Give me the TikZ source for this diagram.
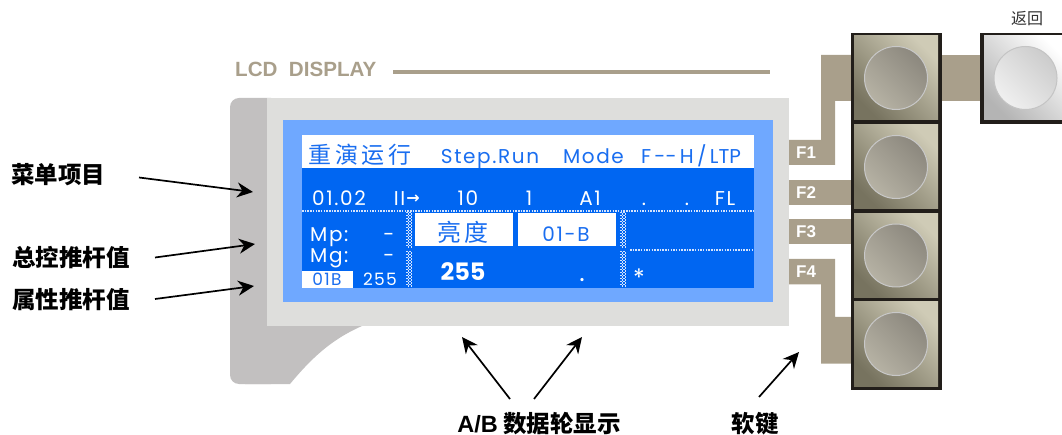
\documentclass[tikz,border=0pt]{standalone}
\usepackage{fontspec}
\setmainfont{Liberation Sans}
\newfontfamily\cjk{Noto Sans CJK SC}
\newfontfamily\lcd{Poppins}
\newfontfamily\lcdw[LetterSpace=8]{Poppins}
\newfontfamily\arrowf{DejaVu Sans}
\usetikzlibrary{arrows.meta}
\definecolor{tan}{HTML}{A99F8B}
\definecolor{body}{HTML}{C2C0C0}
\definecolor{panel}{HTML}{DEDEDC}
\definecolor{lblue}{HTML}{6FA8FF}
\definecolor{dblue}{HTML}{0066F2}
\definecolor{txtb}{HTML}{1A6EF0}
\definecolor{chk}{HTML}{D5E4FC}
\definecolor{frame}{HTML}{221E1A}
\definecolor{btnUL}{HTML}{CFCBB6}\definecolor{btnLR}{HTML}{77735F}\definecolor{btnM}{HTML}{A5A18E}
\definecolor{capUL}{HTML}{8C887E}\definecolor{capLR}{HTML}{B6B2A4}\definecolor{capM}{HTML}{A09C92}\definecolor{capedge}{HTML}{C8C8C8}
\definecolor{wLR}{HTML}{B4B4B4}\definecolor{wM}{HTML}{DEDEDE}
\definecolor{wcUL}{HTML}{CCCCCC}\definecolor{wcM}{HTML}{DEDEDE}\definecolor{wcLR}{HTML}{F0F0F0}\definecolor{wedge}{HTML}{C4C4C4}
\tikzset{
  ptr/.style={draw=black,line width=1.7pt,-{Stealth[length=16pt,width=15pt]}},
  lab/.style={font=\cjk\fontsize{23.5}{23.5}\selectfont\bfseries,text=black,inner sep=0},
  wt/.style={font=\lcdw\fontsize{20}{20}\selectfont,text=white,inner sep=0,anchor=base},
  wts/.style={font=\lcdw\fontsize{17}{17}\selectfont,text=white,inner sep=0,anchor=base},
  bt/.style={font=\lcdw\fontsize{20}{20}\selectfont,text=txtb,inner sep=0,anchor=base},
  fk/.style={font=\fontsize{17}{17}\selectfont\bfseries,text=white,inner sep=0,anchor=west},
  wbox/.style={fill=white,inner sep=0,anchor=north west},
  dots/.style={draw=chk,line width=1.6pt,dash pattern=on 1.5pt off 1.2pt},
  chkcol/.style={draw=chk,line width=1.5pt,dash pattern=on 1.5pt off 1.5pt},
  btn/.style={minimum width=84pt,minimum height=84pt,inner sep=0,shading=axis,
    left color=btnUL,middle color=btnM,right color=btnLR,shading angle=-45},
  capc/.style={circle,draw=capedge,line width=1pt,minimum size=63pt,inner sep=0,shading=axis,
    left color=capUL,middle color=capM,right color=capLR,shading angle=-45},
  wbtn/.style={minimum width=84pt,minimum height=84pt,inner sep=0,shading=axis,
    left color=white,middle color=wM,right color=wLR,shading angle=-45},
  wcap/.style={circle,draw=wedge,line width=1pt,minimum size=63pt,inner sep=0,shading=axis,
    left color=wcUL,middle color=wcM,right color=wcLR,shading angle=-45}
}
\newcommand{\chkband}[3]{%
  \foreach \dx/\ph in {-2.25/0,-0.75/1.5,0.75/0,2.25/1.5}{
    \draw[chkcol,dash phase=\ph pt] (#1+\dx,#2) -- (#1+\dx,#3);
  }}
\begin{document}
\begin{tikzpicture}[x=1pt,y=-1pt]
\useasboundingbox (0,0) rectangle (1062,435);
% LCD title
\node[font=\fontsize{20.6}{20.6}\selectfont\bfseries,text=tan,inner sep=0,anchor=west] (lcdt) at (235,69) {LCD\ \ DISPLAY};
\coordinate (ruleA) at (393,72);
\coordinate (ruleB) at (770,72);
\draw[tan,line width=4pt] (ruleA) -- (ruleB);
% body
\fill[body,rounded corners=9pt] (230,200) -- (230,98) -- (280,98) -- (280,384) -- (230,384) -- cycle;
\fill[body] (245,326) -- (362,326) .. controls (330,340) and (310,360) .. (290,384) -- (245,384) -- cycle;
\fill[panel] (267,98) rectangle (789,326);
\fill[lblue] (283,120.5) rectangle (772.5,302);
\fill[dblue] (302,135) rectangle (754,288.5);
\fill[white] (302,135) rectangle (754,168);
% connectors (behind the keys)
\fill[tan] (789,140) -- (821,140) -- (821,55) -- (852,55) -- (852,101) -- (835,101) -- (835,165) -- (789,165) -- cycle;
\fill[tan] (789,180) rectangle (852,205);
\fill[tan] (789,219) rectangle (852,244.5);
\fill[tan] (789,259) -- (835,259) -- (835,317) -- (852,317) -- (852,363.5) -- (821,363.5) -- (821,284.5) -- (789,284.5) -- cycle;
\fill[tan] (941,55) rectangle (981,101);
\node[fk] (f1) at (796,153) {F1};
\node[fk] (f2) at (796,192.5) {F2};
\node[fk] (f3) at (796,232) {F3};
\node[fk] (f4) at (796,272) {F4};
% keys
\fill[frame] (851,33) rectangle (941.5,390);
\foreach \n/\y in {k1/78,k2/167,k3/255.5,k4/344}{
  \node[btn] (\n) at (896,\y) {};
  \node[capc] (\n c) at (896,\y) {};
}
\fill[frame] (980,33) rectangle (1075,124);
\node[wbtn] (kb) at (1026,78) {};
\node[wcap] (kbc) at (1025.5,78) {};
\node[font=\cjk\fontsize{16}{16}\selectfont,text=black!80,inner sep=0] (back) at (1027,19) {返回};
% screen text
\node[font=\cjk\fontsize{23}{23}\selectfont,text=txtb,inner sep=0] (t1) at (360,155) {重\,演\,运\,行};
\node[bt] (t2) at (490,164) {Step.Run};
\node[bt] (t3) at (593.5,164) {Mode};
\node[bt,font=\lcd\fontsize{20}{20}\selectfont] (t4) at (691,164) {F\,--\,H\,/\,LTP};
\node[wt] (r1) at (339,205.7) {01.02};
\node[wt] (r2) at (399.5,205.7) {II};
\node[font=\arrowf\fontsize{16}{16}\selectfont\bfseries,text=white,inner sep=0] (r2b) at (413,199) {→};
\node[wt] (r3) at (468,205.7) {10};
\node[wt] (r4) at (529,205.7) {1};
\node[wt] (r5) at (590,205.7) {A1};
\node[wt] (r6) at (644,205.7) {.};
\node[wt] (r7) at (687,205.7) {.};
\node[wt] (r8) at (725,205.7) {FL};
\draw[dots] (302,211) -- (754,211);
\chkband{409}{212}{248}
\chkband{409}{251}{287}
\chkband{623}{212}{248}
\chkband{623}{251}{287}
\draw[dots] (630,250) -- (754,250);
\node[wt,anchor=base west] (mp) at (310,241.7) {Mp:};
\node[wt] (mpd) at (389,241.7) {-};
\node[wt,anchor=base west] (mg) at (310,263) {Mg:};
\node[wt] (mgd) at (389,263) {-};
\node[wbox,minimum width=50.5pt,minimum height=17.5pt] (w1) at (302,270.5) {};
\node[wts,text=txtb] (w1t) at (327,286) {01B};
\node[wts] (v) at (380,286) {255};
\node[wbox,minimum width=98pt,minimum height=33pt] (w2) at (415,213) {};
\node[font=\cjk\fontsize{24}{24}\selectfont,text=txtb,inner sep=0] (w2t) at (463,232) {亮\,度};
\node[wbox,minimum width=98pt,minimum height=33pt] (w3) at (518,213) {};
\node[bt] (w3t) at (566,242) {01-B};
\node[font=\lcd\fontsize{24}{24}\selectfont\bfseries,text=white,inner sep=0,anchor=base] (n255) at (463,280.7) {255};
\node[wt,font=\lcd\fontsize{26}{26}\selectfont] (dot) at (582,282) {.};
\node[font=\lcd\fontsize{24}{24}\selectfont,text=white,inner sep=0,anchor=base] (star) at (639,287) {*};
% labels
\node[lab,anchor=west] (l1) at (11,175) {菜单项目};
\node[lab,anchor=west] (l2) at (12,258) {总控推杆值};
\node[lab,anchor=west] (l3) at (12,300) {属性推杆值};
\node[lab,anchor=base] (l4) at (539,432) {{\fontspec{Liberation Sans}\bfseries A/B} 数据轮显示};
\node[lab,anchor=base] (l5) at (755,432) {软键};
\coordinate (a1s) at (139,177.5); \coordinate (a1e) at (253,192);
\coordinate (a2s) at (155,257.5); \coordinate (a2e) at (255,244);
\coordinate (a3s) at (155,299); \coordinate (a3e) at (254,286);
\coordinate (a4s) at (510,399); \coordinate (a4e) at (462,337);
\coordinate (a5s) at (534,399); \coordinate (a5e) at (582,337);
\coordinate (a6s) at (759,397); \coordinate (a6e) at (799,352);
\draw[ptr] (a1s) -- (a1e);
\draw[ptr] (a2s) -- (a2e);
\draw[ptr] (a3s) -- (a3e);
\draw[ptr] (a4s) -- (a4e);
\draw[ptr] (a5s) -- (a5e);
\draw[ptr] (a6s) -- (a6e);
\end{tikzpicture}
\end{document}
